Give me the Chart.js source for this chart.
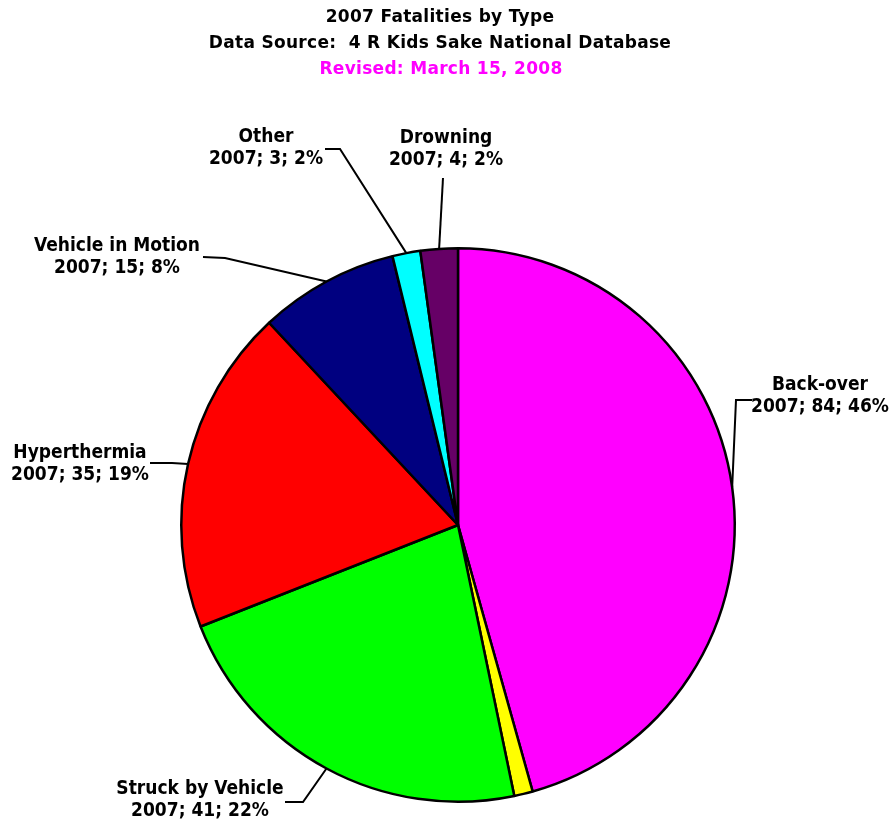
<!DOCTYPE html>
<html>
<head>
<meta charset="utf-8">
<script src="https://cdn.jsdelivr.net/npm/chart.js@4.4.0/dist/chart.umd.min.js"></script>
<style>
  html, body { margin: 0; padding: 0; background: #fff; }
  #wrap { width: 895px; height: 822px; }
</style>
</head>
<body>
<div id="wrap"><canvas id="fatalitiesChart"></canvas></div>
<script>
// data
const year = '2007';
const categories = ['Back-over', 'Unknown', 'Struck by Vehicle', 'Hyperthermia', 'Vehicle in Motion', 'Other', 'Drowning'];
const fatalities = [84, 2, 41, 35, 15, 3, 4];
const sliceColors = ['#FF00FF', '#FFFF00', '#00FF00', '#FF0000', '#000080', '#00FFFF', '#660066'];
const titleLines = [`${year} Fatalities by Type`, 'Data Source:  4 R Kids Sake National Database'];
const revisedLine = 'Revised: March 15, 2008';

// callout layout, offsets from pie centre (px): text centre, elbow, line end
const labelLayout = [
    { text: [362, -129], elbow: [278, -125], end: [294, -125] },
    null,
    { text: [-258, 275], elbow: [-155, 277], end: [-173, 277] },
    { text: [-378, -61], elbow: [-286, -62], end: [-308, -62] },
    { text: [-341, -268], elbow: [-233, -267], end: [-255, -268] },
    { text: [-192, -377], elbow: [-118, -376], end: [-133, -376] },
    { text: [-12, -376], elbow: [-15, -347], end: [-15, -347] }
];

const LABEL_FONT = "bold 19px 'DejaVu Sans Condensed', 'DejaVu Sans', sans-serif";
const TITLE_FONT = "bold 17px 'DejaVu Sans', sans-serif";
const total = fatalities.reduce((a, b) => a + b, 0);

// titles drawn by hand so they can sit a bit left of the pie centre, like the original
const headerPlugin = {
    id: 'header',
    afterDraw(chart) {
        const ctx = chart.ctx;
        ctx.save();
        ctx.font = TITLE_FONT;
        ctx.letterSpacing = '0.3px';
        ctx.textAlign = 'center';
        ctx.textBaseline = 'middle';
        ctx.fillStyle = '#000';
        ctx.fillText(titleLines[0], 440, 18);
        ctx.fillText(titleLines[1], 440, 44);
        ctx.fillStyle = '#FF00FF';
        ctx.fillText(revisedLine, 441, 70);
        ctx.restore();
    }
};

const calloutPlugin = {
    id: 'callouts',
    afterDatasetsDraw(chart) {
        const ctx = chart.ctx;
        const meta = chart.getDatasetMeta(0);
        meta.data.forEach((arc, i) => {
            const lay = labelLayout[i];
            if (!lay) return;
            const p = arc.getProps(['x', 'y', 'startAngle', 'endAngle', 'outerRadius'], true);
            const mid = (p.startAngle + p.endAngle) / 2;
            const sx = p.x + Math.cos(mid) * p.outerRadius;
            const sy = p.y + Math.sin(mid) * p.outerRadius;

            ctx.save();
            ctx.strokeStyle = '#000';
            ctx.lineWidth = 2;
            ctx.beginPath();
            ctx.moveTo(sx, sy);
            ctx.lineTo(p.x + lay.elbow[0], p.y + lay.elbow[1]);
            ctx.lineTo(p.x + lay.end[0], p.y + lay.end[1]);
            ctx.stroke();

            const pct = Math.round(fatalities[i] / total * 100);
            ctx.fillStyle = '#000';
            ctx.font = LABEL_FONT;
            ctx.textAlign = 'center';
            ctx.textBaseline = 'middle';
            const tx = p.x + lay.text[0], ty = p.y + lay.text[1];
            ctx.fillText(categories[i], tx, ty - 11);
            ctx.fillText(`${year}; ${fatalities[i]}; ${pct}%`, tx, ty + 11);
            ctx.restore();
        });
    }
};

new Chart(document.getElementById('fatalitiesChart'), {
    type: 'pie',
    data: {
        labels: categories,
        datasets: [{
            data: fatalities,
            backgroundColor: sliceColors,
            borderColor: '#000',
            borderWidth: 2.5
        }]
    },
    options: {
        responsive: true,
        maintainAspectRatio: false,
        animation: false,
        layout: { padding: { left: 21, right: 0, top: 247, bottom: 19 } },
        plugins: {
            legend: { display: false },
            tooltip: { enabled: false },
            title: { display: false }
        }
    },
    plugins: [calloutPlugin, headerPlugin]
});
</script>
</body>
</html>
